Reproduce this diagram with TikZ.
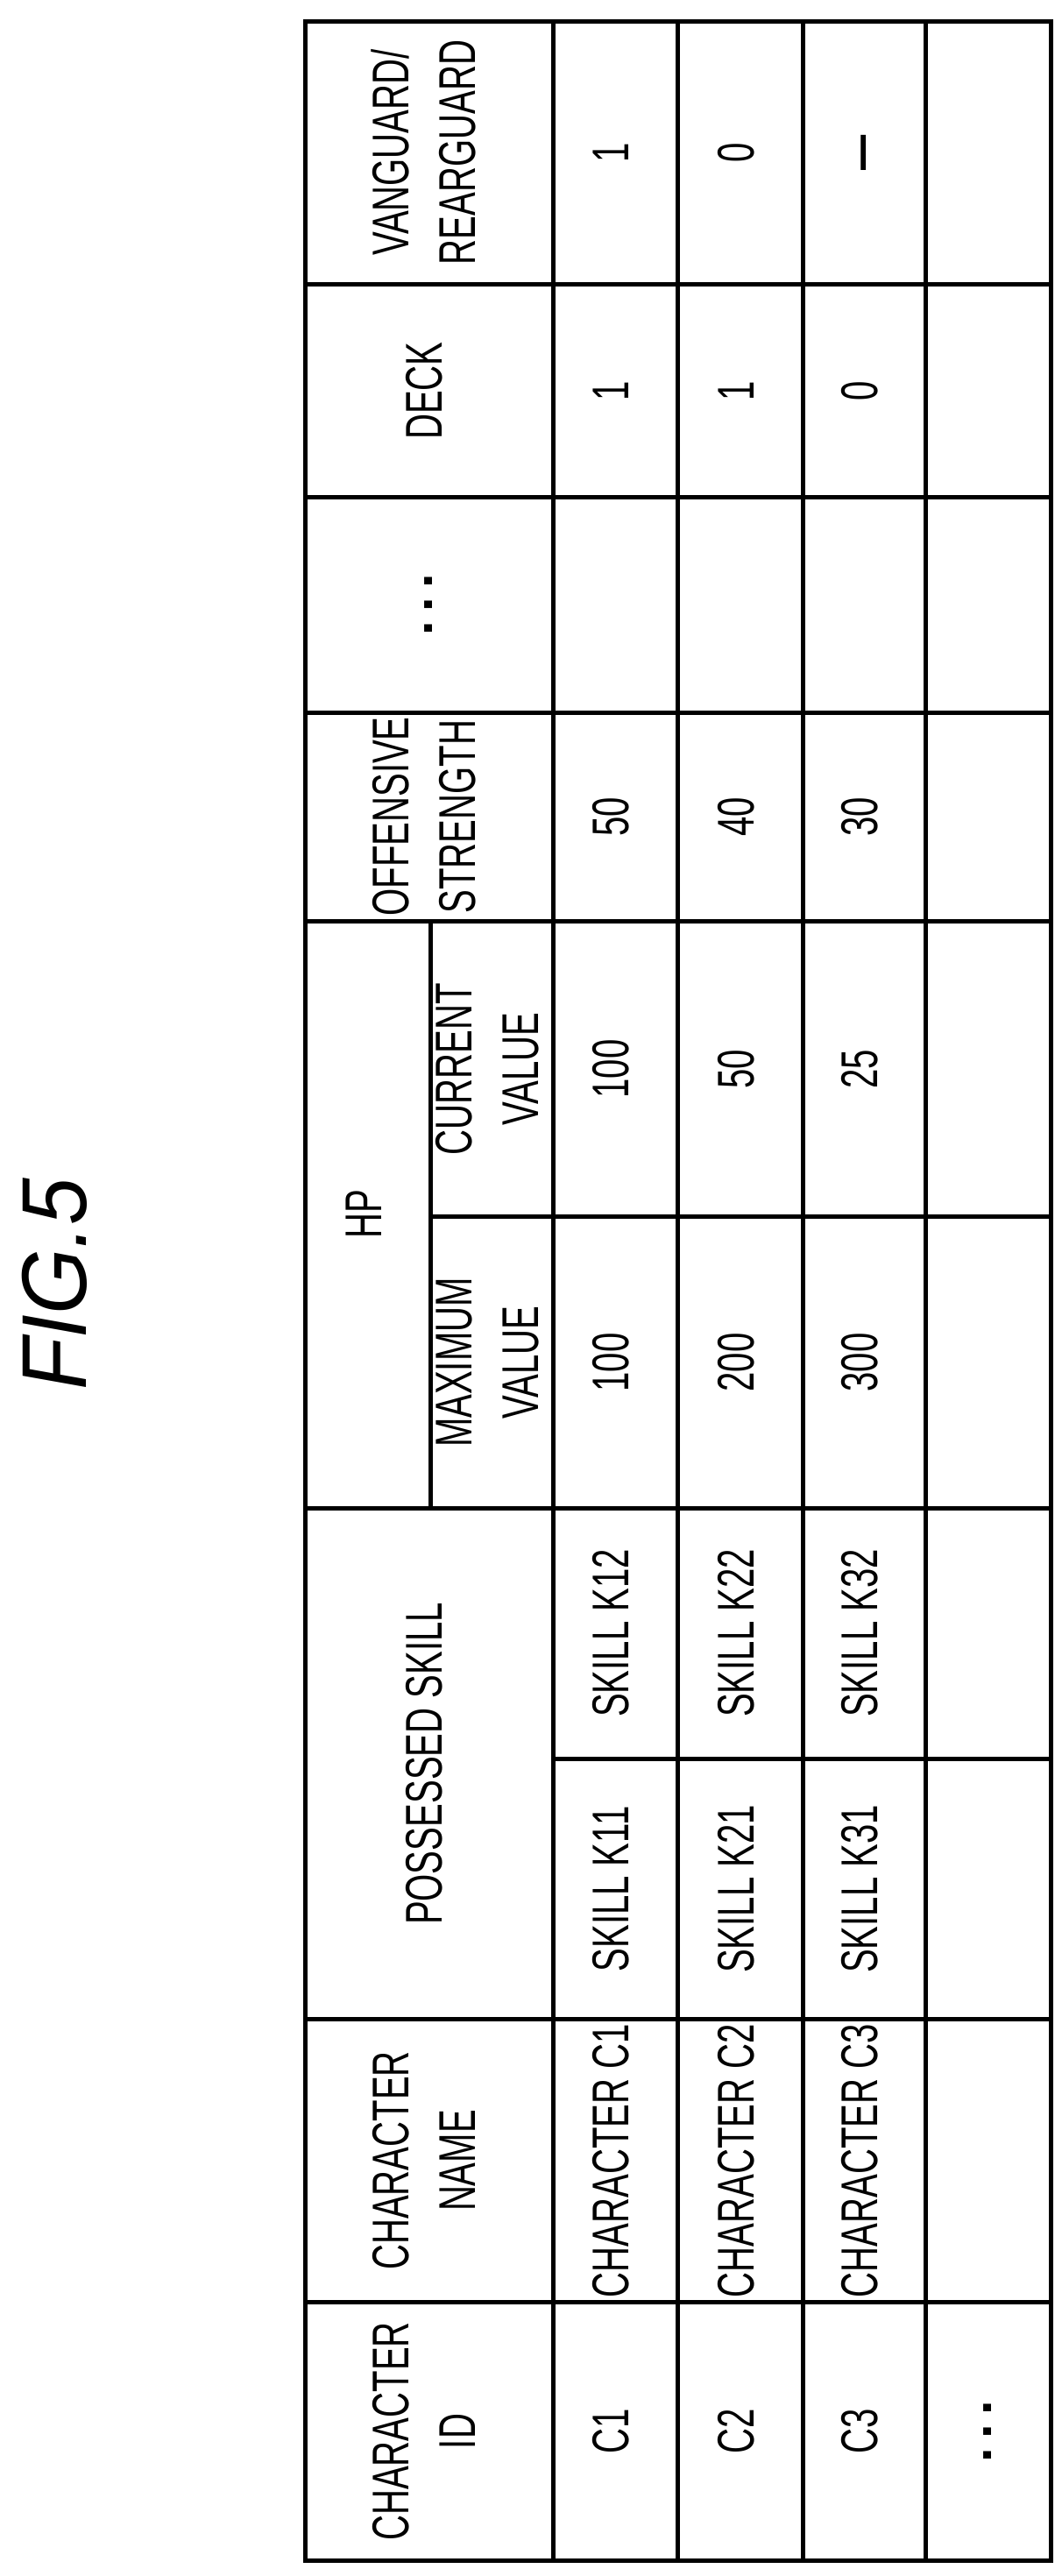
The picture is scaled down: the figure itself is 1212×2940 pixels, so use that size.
\documentclass[tikz,border=0pt]{standalone}
\usepackage{fontspec}
\setmainfont{Liberation Sans}
\usepackage{graphicx}
\newcommand\ct[1]{\scalebox{0.68}[1]{\begin{tabular}{@{}c@{}}#1\end{tabular}}}
\begin{document}
\begin{tikzpicture}[x=1pt,y=-1pt,
  tl/.style={line width=5pt},
  cell/.style={rotate=90,inner sep=0pt,font=\fontsize{59}{76}\selectfont},
  dots/.style={rotate=90,inner sep=0pt,font=\fontsize{60}{60}\selectfont\bfseries}]
\useasboundingbox (0,0) rectangle (1212,2940);
% outer frame and grid
\draw[tl] (348,24) rectangle (1199,2922);
\foreach \x in {631,773,916,1056}{\draw[tl] (\x,24) -- (\x,2922);}
\foreach \y in {324,567,813,1051,1721,2304,2627}{\draw[tl] (348,\y) -- (1199,\y);}
\draw[tl] (491,1051) -- (491,1721);
\draw[tl] (491,1388) -- (1199,1388);
\draw[tl] (631,2007) -- (1199,2007);
% title
\node[rotate=90,font=\fontsize{105}{105}\selectfont\itshape] (title) at (62,1466) {\scalebox{0.92}[1]{FIG.5}};
% headers
\node[cell] (hvr) at (489,174) {\ct{VANGUARD/\\REARGUARD}};
\node[cell] (hdk) at (489,446) {\ct{DECK}};
\node[dots] (hdt) at (489,690) {.\,.\,.};
\node[cell] (hos) at (489,932) {\ct{OFFENSIVE\\STRENGTH}};
\node[cell] (hhp) at (420,1386) {\ct{HP}};
\node[cell] (hcv) at (561,1220) {\ct{CURRENT\\VALUE}};
\node[cell] (hmv) at (561,1555) {\ct{MAXIMUM\\VALUE}};
\node[cell] (hps) at (489,2013) {\ct{POSSESSED SKILL}};
\node[cell] (hcn) at (489,2466) {\ct{CHARACTER\\NAME}};
\node[cell] (hid) at (489,2775) {\ct{CHARACTER\\ID}};
% row 1
\node[cell] (a1) at (702,174) {\ct{1}};
\node[cell] (a2) at (702,446) {\ct{1}};
\node[cell] (a3) at (702,932) {\ct{50}};
\node[cell] (a4) at (702,1220) {\ct{100}};
\node[cell] (a5) at (702,1555) {\ct{100}};
\node[cell] (a6) at (702,1864) {\ct{SKILL K12}};
\node[cell] (a7) at (702,2156) {\ct{SKILL K11}};
\node[cell] (a8) at (702,2466) {\ct{CHARACTER C1}};
\node[cell] (a9) at (702,2775) {\ct{C1}};
% row 2
\node[cell] (b1) at (845,174) {\ct{0}};
\node[cell] (b2) at (845,446) {\ct{1}};
\node[cell] (b3) at (845,932) {\ct{40}};
\node[cell] (b4) at (845,1220) {\ct{50}};
\node[cell] (b5) at (845,1555) {\ct{200}};
\node[cell] (b6) at (845,1864) {\ct{SKILL K22}};
\node[cell] (b7) at (845,2156) {\ct{SKILL K21}};
\node[cell] (b8) at (845,2466) {\ct{CHARACTER C2}};
\node[cell] (b9) at (845,2775) {\ct{C2}};
% row 3
\node[cell] (c1) at (986,174) {\ct{\textbf{—}}};
\node[cell] (c2) at (986,446) {\ct{0}};
\node[cell] (c3) at (986,932) {\ct{30}};
\node[cell] (c4) at (986,1220) {\ct{25}};
\node[cell] (c5) at (986,1555) {\ct{300}};
\node[cell] (c6) at (986,1864) {\ct{SKILL K32}};
\node[cell] (c7) at (986,2156) {\ct{SKILL K31}};
\node[cell] (c8) at (986,2466) {\ct{CHARACTER C3}};
\node[cell] (c9) at (986,2775) {\ct{C3}};
% row 4
\node[dots] (d9) at (1127,2775) {.\,.\,.};
\end{tikzpicture}
\end{document}
